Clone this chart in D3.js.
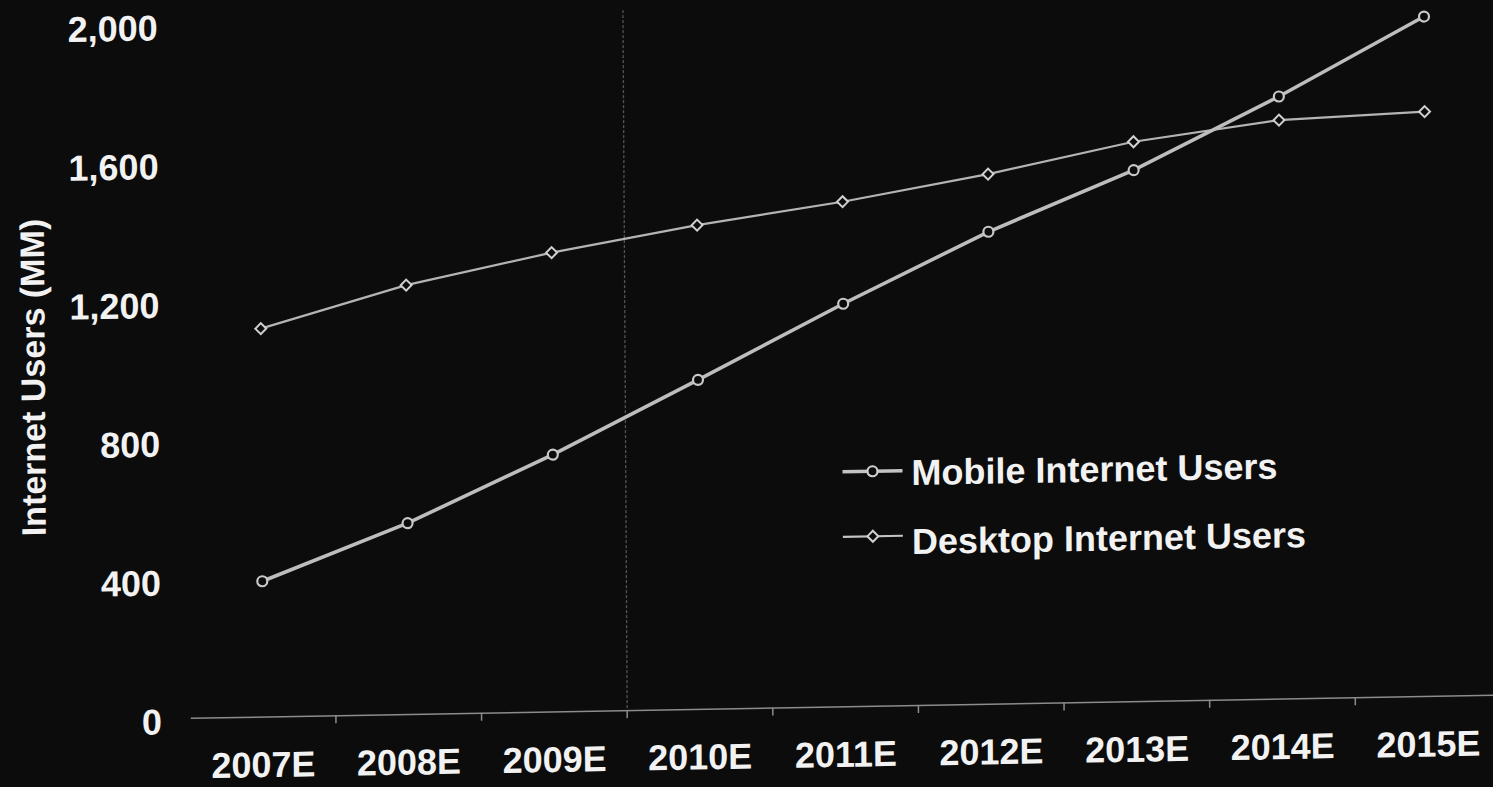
<!DOCTYPE html>
<html>
<head>
<meta charset="utf-8">
<script src="https://cdn.jsdelivr.net/npm/d3@7"></script>
<style>
  html, body { margin: 0; padding: 0; background: #0c0c0c; }
  svg { display: block; }
  text { font-family: "Liberation Sans", Arial, Helvetica, sans-serif; font-weight: bold; fill: #f2f2f2; }
</style>
</head>
<body>
<svg id="chart" width="1493" height="787"></svg>
<script>
// ---- data ----
const categories = ["2007E", "2008E", "2009E", "2010E", "2011E", "2012E", "2013E", "2014E", "2015E"];
const mobileUsers = [390, 550, 740, 948, 1160, 1360, 1530, 1735, 1958];
const desktopUsers = [1118, 1236, 1322, 1394, 1454, 1526, 1612, 1667, 1684];
const yTicks = [0, 400, 800, 1200, 1600, 2000];
const seriesNames = ["Mobile Internet Users", "Desktop Internet Users"];
const yTitle = "Internet Users (MM)";
const dividerCategory = "2010E"; // dotted divider drawn at the left edge of this category

// ---- layout ----
const W = 1493, H = 787;
const bg = "#0c0c0c";
const svg = d3.select("#chart");
svg.append("rect").attr("width", W).attr("height", H).attr("fill", bg);

// photographed slide: slight skew of the whole picture
const g = svg.append("g").attr("transform", "matrix(1,-0.0177,0.006,1,-2.36,13.2)");

const x = d3.scaleBand().domain(categories).range([188.4, 1499]).padding(0);
const y = d3.scaleLinear().domain([0, 2000]).range([708, 14]);
const cx = d => x(d) + x.bandwidth() / 2;

// divider line (faint, dotted)
g.append("line")
  .attr("x1", x(dividerCategory)).attr("x2", x(dividerCategory))
  .attr("y1", 8).attr("y2", y(0))
  .attr("stroke", "#555").attr("stroke-width", 1.3)
  .attr("stroke-dasharray", "3,2");

// x axis
const xAxis = g.append("g").attr("transform", `translate(0,${y(0)})`)
  .call(d3.axisBottom(x).tickSize(0).tickPadding(35));
xAxis.select(".domain").attr("stroke", "#8c8c8c").attr("stroke-width", 1.5);
xAxis.selectAll("text").attr("font-size", 36).style("fill", "#f2f2f2")
  .attr("font-family", "Liberation Sans, Arial, sans-serif").attr("font-weight", "bold");
// boundary tick marks between categories
g.append("g").selectAll("line")
  .data(categories.slice(1))
  .join("line")
  .attr("x1", d => x(d)).attr("x2", d => x(d))
  .attr("y1", y(0)).attr("y2", y(0) + 8)
  .attr("stroke", "#8c8c8c").attr("stroke-width", 1.5);

// y axis (labels only)
const yAxis = g.append("g").attr("transform", "translate(160,0)")
  .call(d3.axisLeft(y).tickValues(yTicks).tickFormat(d3.format(",")).tickSize(0).tickPadding(0));
yAxis.select(".domain").remove();
yAxis.selectAll("text").attr("font-size", 36).attr("dy", "0.43em").style("fill", "#f2f2f2")
  .attr("font-family", "Liberation Sans, Arial, sans-serif").attr("font-weight", "bold");

// y title
g.append("text")
  .attr("transform", "translate(45,365) rotate(-90)")
  .attr("text-anchor", "middle")
  .attr("font-size", 34)
  .text(yTitle);

// lines
const lineGen = d3.line().x((d, i) => cx(categories[i])).y(d => y(d));
g.append("path").datum(desktopUsers).attr("d", lineGen)
  .attr("fill", "none").attr("stroke", "#b4b4b4").attr("stroke-width", 2.2);
g.append("path").datum(mobileUsers).attr("d", lineGen)
  .attr("fill", "none").attr("stroke", "#bdbdbd").attr("stroke-width", 3.6);

// markers
const diamond = d3.symbol().type(d3.symbolSquare).size(60);
g.append("g").selectAll("path")
  .data(desktopUsers)
  .join("path")
  .attr("d", diamond)
  .attr("transform", (d, i) => `translate(${cx(categories[i])},${y(d)}) rotate(45)`)
  .attr("fill", bg).attr("stroke", "#d0d0d0").attr("stroke-width", 2);
g.append("g").selectAll("circle")
  .data(mobileUsers)
  .join("circle")
  .attr("cx", (d, i) => cx(categories[i])).attr("cy", d => y(d))
  .attr("r", 5).attr("fill", bg).attr("stroke", "#c8c8c8").attr("stroke-width", 2.2);

// legend
const legend = g.append("g");
const legendRows = [
  { name: seriesNames[0], ly: 473.5, ty: 475, w: 3.6, marker: "circle" },
  { name: seriesNames[1], ly: 538.5, ty: 544, w: 2.2, marker: "diamond" }
];
legendRows.forEach(r => {
  legend.append("line").attr("x1", 842).attr("x2", 902).attr("y1", r.ly).attr("y2", r.ly)
    .attr("stroke", "#c4c4c4").attr("stroke-width", r.w);
  if (r.marker === "circle") {
    legend.append("circle").attr("cx", 872).attr("cy", r.ly).attr("r", 5)
      .attr("fill", bg).attr("stroke", "#d0d0d0").attr("stroke-width", 2.2);
  } else {
    legend.append("path").attr("d", diamond).attr("transform", `translate(872,${r.ly}) rotate(45)`)
      .attr("fill", bg).attr("stroke", "#d0d0d0").attr("stroke-width", 2);
  }
  legend.append("text").attr("x", 911).attr("y", r.ty).attr("dy", "0.36em")
    .attr("font-size", 36).text(r.name);
});
</script>
</body>
</html>
